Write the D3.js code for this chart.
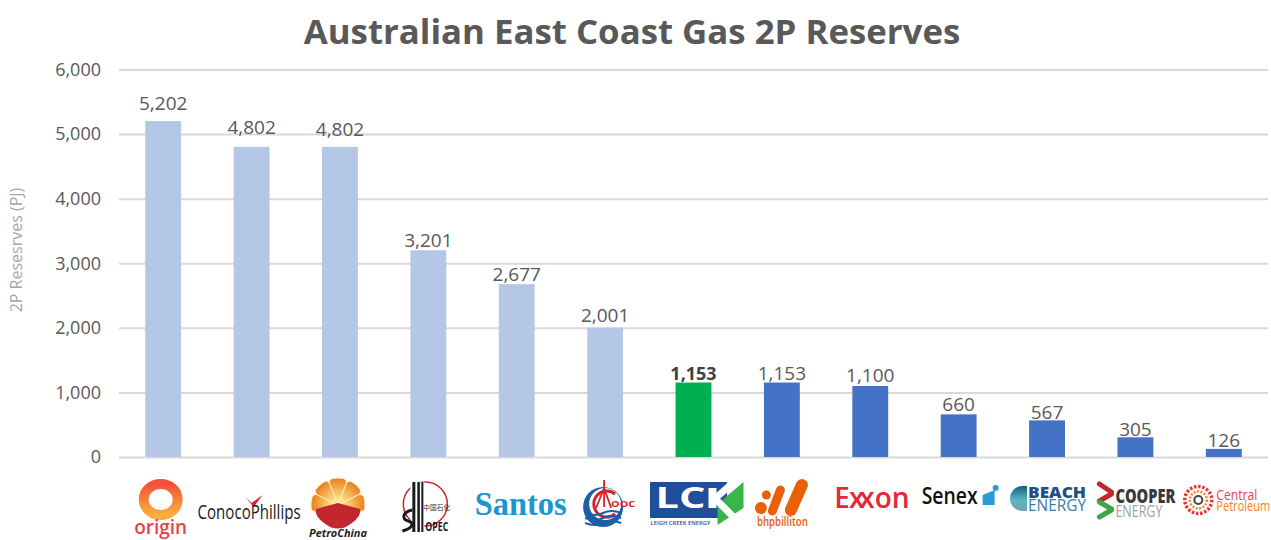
<!DOCTYPE html>
<html>
<head>
<meta charset="utf-8">
<title>Australian East Coast Gas 2P Reserves</title>
<script src="https://cdn.jsdelivr.net/npm/d3@7"></script>
<style>
  html, body { margin: 0; padding: 0; background: #fff; overflow: hidden; }
  text { font-family: "Open Sans", sans-serif; }
</style>
</head>
<body>
<script>
'use strict';

const companies = ['Origin', 'ConocoPhillips', 'PetroChina', 'Sinopec', 'Santos', 'CNOOC', 'LCK',
  'BHP Billiton', 'Exxon', 'Senex', 'Beach Energy', 'Cooper Energy', 'Central Petroleum'];
const reserves = [5202, 4802, 4802, 3201, 2677, 2001, 1153, 1153, 1100, 660, 567, 305, 126];
const groups = ['major', 'major', 'major', 'major', 'major', 'major', 'lck',
  'minor', 'minor', 'minor', 'minor', 'minor', 'minor'];
const yTicks = [0, 1000, 2000, 3000, 4000, 5000, 6000];

const groupColor = { major: '#b4c7e7', lck: '#00b050', minor: '#4472c4' };

const svg = d3.select('body').append('svg')
  .attr('width', 1271)
  .attr('height', 540);

const defs = svg.append('defs');
const originGrad = defs.append('linearGradient').attr('id', 'originGrad')
  .attr('x1', 0).attr('y1', 0).attr('x2', 0).attr('y2', 1);
originGrad.append('stop').attr('offset', '0%').attr('stop-color', '#f4503a');
originGrad.append('stop').attr('offset', '100%').attr('stop-color', '#fbb03b');
const petroGrad = defs.append('radialGradient').attr('id', 'petroGrad')
  .attr('gradientUnits', 'userSpaceOnUse')
  .attr('cx', 0).attr('cy', 0).attr('r', 27);
petroGrad.append('stop').attr('offset', '20%').attr('stop-color', '#fde68a');
petroGrad.append('stop').attr('offset', '100%').attr('stop-color', '#ea7d1c');
const beachGrad = defs.append('linearGradient').attr('id', 'beachGrad')
  .attr('x1', 0).attr('y1', 0).attr('x2', 0).attr('y2', 1);
beachGrad.append('stop').attr('offset', '0%').attr('stop-color', '#14607f');
beachGrad.append('stop').attr('offset', '55%').attr('stop-color', '#58b4c4');
beachGrad.append('stop').attr('offset', '100%').attr('stop-color', '#7d9db5');

const xScale = d3.scaleBand()
  .domain(companies)
  .range([119, 1268])
  .paddingInner(0.594)
  .paddingOuter(0.297);

const yScale = d3.scaleLinear()
  .domain([0, 6000])
  .range([457, 69.5]);

// gridlines and y labels from the axis
const yAxis = d3.axisLeft(yScale)
  .tickValues(yTicks)
  .tickFormat(d3.format(','))
  .tickSize(-1149)
  .tickPadding(18);

const yAxisG = svg.append('g')
  .attr('transform', 'translate(119, 0)')
  .call(yAxis);
yAxisG.select('.domain').remove();
yAxisG.selectAll('.tick line')
  .attr('stroke', '#d9d9d9')
  .attr('stroke-width', 2);
yAxisG.selectAll('.tick text')
  .attr('fill', '#595959')
  .style('font-size', '18px');

svg.append('text')
  .attr('x', 632)
  .attr('y', 44)
  .attr('text-anchor', 'middle')
  .attr('fill', '#595959')
  .style('font-size', '34.8px')
  .style('font-weight', 700)
  .text('Australian East Coast Gas 2P Reserves');

svg.append('text')
  .attr('transform', 'translate(22, 250)rotate(-90)')
  .attr('text-anchor', 'middle')
  .attr('fill', '#a6a6a6')
  .style('font-size', '16px')
  .text('2P Resesrves (PJ)');

svg.selectAll('.bar')
  .data(companies)
  .enter()
  .append('rect')
  .attr('class', 'bar')
  .attr('x', (d) => xScale(d))
  .attr('width', xScale.bandwidth())
  .attr('y', (d, i) => yScale(reserves[i]))
  .attr('height', (d, i) => yScale(0) - yScale(reserves[i]))
  .attr('fill', (d, i) => groupColor[groups[i]]);

// the labels were nudged by hand in the original, so the gap above each bar differs
const labelLift = [11, 13, 11, 3, 3, 6, 3, 3, 4, 3, 1, 1, 2];

svg.selectAll('.value')
  .data(companies)
  .enter()
  .append('text')
  .attr('class', 'value')
  .attr('x', (d) => xScale(d) + xScale.bandwidth() / 2)
  .attr('y', (d, i) => yScale(reserves[i]) - labelLift[i])
  .attr('text-anchor', 'middle')
  .attr('fill', (d, i) => groups[i] === 'lck' ? '#404040' : '#595959')
  .style('font-size', (d, i) => groups[i] === 'lck' ? '18px' : '19px')
  .style('font-weight', (d, i) => groups[i] === 'lck' ? 700 : 400)
  .text((d, i) => d3.format(',')(reserves[i]));

// logos under the axis, drawn around the centre of each band
function logoText(g, str, x, y, size, color, opts) {
  opts = opts || {};
  return g.append('text')
    .attr('x', x)
    .attr('y', y)
    .attr('fill', color)
    .attr('textLength', opts.width || null)
    .attr('lengthAdjust', 'spacingAndGlyphs')
    .style('font-family', opts.font || '"Open Sans", sans-serif')
    .style('font-size', size + 'px')
    .style('font-weight', opts.weight || 400)
    .style('font-style', opts.italic ? 'italic' : 'normal')
    .text(str);
}

const logos = {
  'Origin': (g) => {
    g.append('ellipse').attr('cx', -2.5).attr('cy', 499.5).attr('rx', 17).attr('ry', 15.5)
      .attr('fill', 'none').attr('stroke', 'url(#originGrad)').attr('stroke-width', 10);
    logoText(g, 'origin', -29, 534, 19, '#ef3e4a', { width: 53, weight: 600 });
  },
  'ConocoPhillips': (g) => {
    g.append('path').attr('d', 'M-6,497 L0,503 L11,495 L2,507 Z').attr('fill', '#d8202a');
    logoText(g, 'ConocoPhillips', -54, 519, 20, '#1a1a1a', { width: 103, weight: 500 });
  },
  'PetroChina': (g) => {
    const fan = d3.arc().innerRadius(0).outerRadius(27).cornerRadius(4);
    const edges = [-1.85, -1.11, -0.37, 0.37, 1.11, 1.85];
    const fanG = g.append('g').attr('transform', 'translate(-2, 505)');
    fanG.selectAll('.petal').data(d3.range(5)).enter().append('path')
      .attr('d', (i) => fan({ startAngle: edges[i], endAngle: edges[i + 1] }))
      .attr('fill', 'url(#petroGrad)')
      .attr('stroke', '#fdf0c0')
      .attr('stroke-width', 1);
    g.append('path')
      .attr('d', 'M-24,509 L-2,503 L20,509 C22,518 10,524 6,527 Q-2,530 -10,527 C-14,524 -26,518 -24,509 Z')
      .attr('fill', '#c1272d');
    logoText(g, 'PetroChina', -31, 537, 10, '#222', { width: 58, weight: 700, italic: true });
  },
  'Sinopec': (g) => {
    g.append('circle').attr('cx', -3).attr('cy', 504).attr('r', 22)
      .attr('fill', 'none').attr('stroke', '#c8282d').attr('stroke-width', 1.5);
    g.append('rect').attr('x', -18).attr('y', 482).attr('width', 14).attr('height', 50).attr('fill', '#fff');
    g.selectAll('.stripe').data([[-16, 3], [-11, 2.5], [-7, 2]]).enter().append('rect')
      .attr('x', (d) => d[0]).attr('y', 482).attr('width', (d) => d[1]).attr('height', 50).attr('fill', '#1a1a1a');
    g.append('path').attr('d', 'M-16,510 C-26,512 -27,519 -20,521 C-14,523 -15,528 -26,531')
      .attr('fill', 'none').attr('stroke', '#1a1a1a').attr('stroke-width', 3);
    logoText(g, '中国石化', -5, 510, 7, '#333', { width: 27 })
      .style('font-family', '"Noto Sans CJK SC", sans-serif');
    logoText(g, 'OPEC', -3, 531, 12.5, '#1a1a1a', { width: 23, weight: 700 });
  },
  'Santos': (g) => {
    logoText(g, 'Santos', -42, 515, 33, '#1b95d3', { width: 92, weight: 700, font: '"Liberation Serif", serif' });
  },
  'CNOOC': (g) => {
    g.append('circle').attr('cx', -2).attr('cy', 507).attr('r', 20).attr('fill', '#1a5fa8');
    g.append('circle').attr('cx', 0).attr('cy', 504).attr('r', 16).attr('fill', '#fff');
    g.append('path').attr('d', 'M10,494 A13,13 0 1 0 10,514')
      .attr('fill', 'none').attr('stroke', '#d8202a').attr('stroke-width', 3);
    g.selectAll('.wave').data([513, 518, 523]).enter().append('path')
      .attr('d', (d) => 'M-20,' + d + ' Q-10,' + (d + 4) + ' -2,' + d + ' T16,' + d)
      .attr('fill', 'none').attr('stroke', '#1a5fa8').attr('stroke-width', 2);
    g.append('path').attr('d', 'M-1,480 L-1,507 M-1,488 L-9,508 M-1,488 L6,508')
      .attr('fill', 'none').attr('stroke', '#d8202a').attr('stroke-width', 1.8);
    logoText(g, 'OOC', 6, 507, 9, '#d8202a', { width: 24, weight: 700 });
  },
  'LCK': (g) => {
    g.append('rect').attr('x', -43.5).attr('y', 482).attr('width', 77).attr('height', 36).attr('fill', '#1f4e9a');
    g.append('path').attr('d', 'M50,482 L24,504 L24,525 L50,508 Z').attr('fill', '#39b54a');
    logoText(g, 'LC', -38, 508, 28, '#fff', { width: 50, weight: 700 });
    g.append('rect').attr('x', 15).attr('y', 488).attr('width', 8).attr('height', 20).attr('fill', '#fff');
    g.append('path').attr('d', 'M20,500 L38,484 M21,498 L39,516').attr('stroke', '#fff').attr('stroke-width', 7);
    logoText(g, 'LEIGH CREEK ENERGY', -43, 525, 5.5, '#1f4e9a', { width: 60, weight: 600 });
  },
  'BHP Billiton': (g) => {
    g.selectAll('.blob').data([[-15.5, 495, 4.5], [-21, 508, 6]]).enter().append('circle')
      .attr('cx', (d) => d[0]).attr('cy', (d) => d[1]).attr('r', (d) => d[2]).attr('fill', '#e9600a');
    g.append('path').attr('d', 'M-1.5,490 L-9.5,511').attr('stroke', '#e9600a')
      .attr('stroke-width', 9).attr('stroke-linecap', 'round');
    g.append('path').attr('d', 'M20,485 L9,510').attr('stroke', '#e9600a')
      .attr('stroke-width', 12).attr('stroke-linecap', 'round');
    logoText(g, 'bhpbilliton', -25, 526, 13, '#e9600a', { width: 51, weight: 600 });
  },
  'Exxon': (g) => {
    logoText(g, 'Exxon', -36, 508, 28, '#e8263a', { weight: 600 })
      .attr('dx', '0 -1 -5 0 0');
  },
  'Senex': (g) => {
    logoText(g, 'Senex', -37, 504, 23, '#111', { width: 56, weight: 600 });
    g.append('path').attr('d', 'M24,495 L36,490 L36,505 L24,505 Z').attr('fill', '#2a9bd6');
    g.append('circle').attr('cx', 37).attr('cy', 488).attr('r', 3).attr('fill', '#2a9bd6');
  },
  'Beach Energy': (g) => {
    g.append('path').attr('d', 'M-20,486 L-25,486 A12,12.5 0 0 0 -25,511 L-20,511 Z').attr('fill', 'url(#beachGrad)');
    logoText(g, 'BEACH', -19, 498, 15.5, '#1f4f86', { width: 58, weight: 800 });
    logoText(g, 'ENERGY', -19, 511, 15.5, '#3a7ca5', { width: 58 });
  },
  'Cooper Energy': (g) => {
    const stripes = [['M-36,484 L-24,492', '#c1272d'], ['M-24,494 L-36,501', '#c1272d'],
      ['M-36,502 L-24,509', '#39a845'], ['M-24,510 L-36,517', '#39a845']];
    stripes.forEach((s) => {
      g.append('path').attr('d', s[0]).attr('stroke', s[1]).attr('stroke-width', 5).attr('stroke-linecap', 'round');
    });
    logoText(g, 'COOPER', -20, 503, 20, '#3a3a3a', { width: 60, weight: 800 });
    logoText(g, 'ENERGY', -20, 517, 15.5, '#a0a0a0', { width: 47 });
  },
  'Central Petroleum': (g) => {
    g.append('circle').attr('cx', -25.5).attr('cy', 500).attr('r', 13.5)
      .attr('fill', 'none').attr('stroke', '#e8343f').attr('stroke-width', 3.5).attr('stroke-dasharray', '2.5 1.7');
    g.append('circle').attr('cx', -25.5).attr('cy', 500).attr('r', 8.5)
      .attr('fill', 'none').attr('stroke', '#f08a24').attr('stroke-width', 2.5).attr('stroke-dasharray', '2 1.5');
    g.append('circle').attr('cx', -25.5).attr('cy', 500).attr('r', 4)
      .attr('fill', 'none').attr('stroke', '#444').attr('stroke-width', 2);
    logoText(g, 'Central', -7.5, 500, 14.5, '#ef3e4a', { width: 41 });
    logoText(g, 'Petroleum', -7.5, 511, 14.5, '#f58220', { width: 54 });
  }
};

companies.forEach((name) => {
  const g = svg.append('g')
    .attr('class', 'logo')
    .attr('transform', 'translate(' + (xScale(name) + xScale.bandwidth() / 2) + ', 0)');
  logos[name](g);
});
</script>
</body>
</html>
